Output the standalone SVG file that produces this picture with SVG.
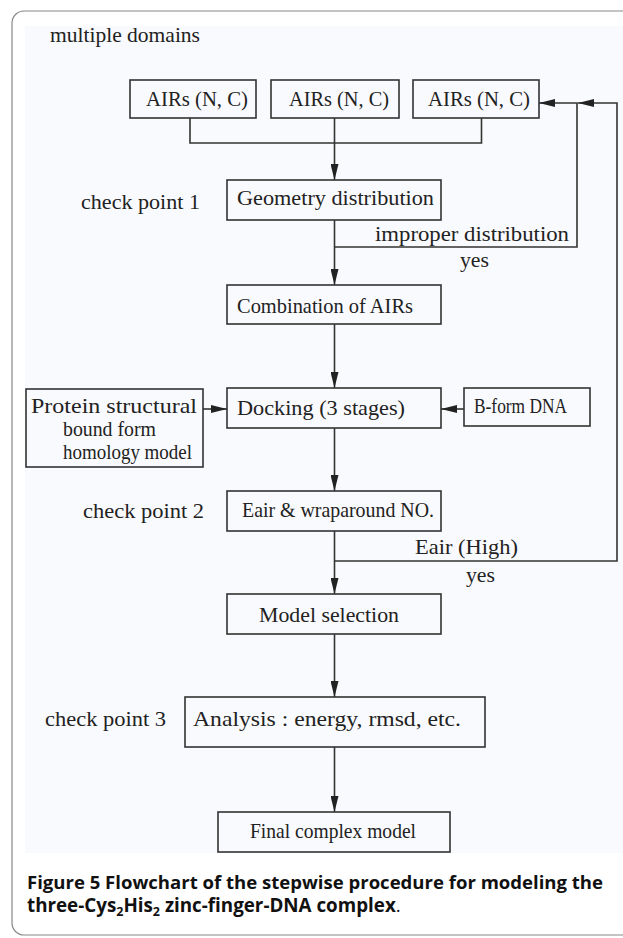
<svg xmlns="http://www.w3.org/2000/svg" width="623" height="938" viewBox="0 0 623 938">
<defs>
<style>
.box{fill:none;stroke:#333;stroke-width:1.6}
.ln{fill:none;stroke:#333;stroke-width:1.6}
.t{font-family:"Liberation Serif","DejaVu Serif",serif;font-size:21.5px;fill:#222}
.cap{font-family:"Open Sans","Noto Sans",sans-serif;font-size:18px;fill:#111;font-weight:700}
.sub{font-size:12.5px}
</style>
<marker id="ah" viewBox="0 0 16 8" refX="16" refY="4" markerWidth="16" markerHeight="8" markerUnits="userSpaceOnUse" orient="auto">
<path d="M0,0 L16,4 L0,8 z" fill="#222"/>
</marker>
</defs>
<rect x="0" y="0" width="623" height="938" fill="#fff"/>
<rect x="12" y="11" width="640" height="924" rx="12" ry="12" fill="#fff" stroke="#888" stroke-width="1.2"/>
<rect x="25" y="26" width="598" height="827" fill="#f9fafd"/>
<text class="t" x="50" y="42" textLength="150" lengthAdjust="spacingAndGlyphs">multiple domains</text>
<text class="t" x="81" y="209" textLength="119" lengthAdjust="spacingAndGlyphs">check point 1</text>
<text class="t" x="83" y="518" textLength="121" lengthAdjust="spacingAndGlyphs">check point 2</text>
<text class="t" x="45" y="726" textLength="121" lengthAdjust="spacingAndGlyphs">check point 3</text>

<g id="connectors">
<polyline class="ln" points="190,118 190,143 481.5,143 481.5,118"/>
<line class="ln" x1="334.5" y1="118" x2="334.5" y2="180" marker-end="url(#ah)"/>
<line class="ln" x1="334.5" y1="220" x2="334.5" y2="285" marker-end="url(#ah)"/>
<polyline class="ln" points="334.5,247 577,247 577,103 539,103" marker-end="url(#ah)"/>
<line class="ln" x1="334.5" y1="324" x2="334.5" y2="388" marker-end="url(#ah)"/>
<line class="ln" x1="203" y1="409" x2="227" y2="409" marker-end="url(#ah)"/>
<line class="ln" x1="464" y1="409" x2="441" y2="409" marker-end="url(#ah)"/>
<line class="ln" x1="334.5" y1="428" x2="334.5" y2="491" marker-end="url(#ah)"/>
<line class="ln" x1="334.5" y1="531" x2="334.5" y2="594" marker-end="url(#ah)"/>
<polyline class="ln" points="334.5,561 617,561 617,103 578,103" marker-end="url(#ah)"/>
<line class="ln" x1="334.5" y1="634" x2="334.5" y2="697" marker-end="url(#ah)"/>
<line class="ln" x1="334.5" y1="747" x2="334.5" y2="812" marker-end="url(#ah)"/>
<text class="t" x="375" y="241" textLength="194" lengthAdjust="spacingAndGlyphs">improper distribution</text>
<text class="t" x="460" y="267" textLength="29" lengthAdjust="spacingAndGlyphs">yes</text>
<text class="t" x="415" y="554" textLength="103" lengthAdjust="spacingAndGlyphs">Eair (High)</text>
<text class="t" x="466" y="582" textLength="29" lengthAdjust="spacingAndGlyphs">yes</text>
</g>

<g id="air1"><rect class="box" x="130" y="80" width="126" height="38"/><text class="t" x="146" y="106" textLength="102" lengthAdjust="spacingAndGlyphs">AIRs (N, C)</text></g>
<g id="air2"><rect class="box" x="271" y="80" width="128" height="38"/><text class="t" x="289" y="106" textLength="100" lengthAdjust="spacingAndGlyphs">AIRs (N, C)</text></g>
<g id="air3"><rect class="box" x="413" y="80" width="126" height="38"/><text class="t" x="428" y="106" textLength="102" lengthAdjust="spacingAndGlyphs">AIRs (N, C)</text></g>
<g id="geometry"><rect class="box" x="227" y="180" width="214" height="40"/><text class="t" x="237" y="205" textLength="197" lengthAdjust="spacingAndGlyphs">Geometry distribution</text></g>
<g id="combination"><rect class="box" x="227" y="285" width="214" height="39"/><text class="t" x="237" y="313" textLength="176" lengthAdjust="spacingAndGlyphs">Combination of AIRs</text></g>
<g id="protein"><rect class="box" x="26" y="389" width="177" height="78"/>
<text class="t" x="31" y="413" textLength="166" lengthAdjust="spacingAndGlyphs">Protein structural</text>
<text class="t" x="63" y="436" textLength="93" lengthAdjust="spacingAndGlyphs">bound form</text>
<text class="t" x="63" y="459" textLength="129" lengthAdjust="spacingAndGlyphs">homology model</text></g>
<g id="docking"><rect class="box" x="227" y="388" width="214" height="40"/><text class="t" x="237" y="415" textLength="168" lengthAdjust="spacingAndGlyphs">Docking (3 stages)</text></g>
<g id="bform"><rect class="box" x="464" y="388" width="126" height="38"/><text class="t" x="474" y="413" textLength="93" lengthAdjust="spacingAndGlyphs">B-form DNA</text></g>
<g id="eair"><rect class="box" x="227" y="491" width="214" height="40"/><text class="t" x="242" y="517" textLength="192" lengthAdjust="spacingAndGlyphs">Eair &amp; wraparound NO.</text></g>
<g id="model"><rect class="box" x="227" y="594" width="214" height="40"/><text class="t" x="259" y="622" textLength="140" lengthAdjust="spacingAndGlyphs">Model selection</text></g>
<g id="analysis"><rect class="box" x="185" y="697" width="300" height="50"/><text class="t" x="193" y="726" textLength="268" lengthAdjust="spacingAndGlyphs">Analysis : energy, rmsd, etc.</text></g>
<g id="final"><rect class="box" x="218" y="812" width="232" height="40"/><text class="t" x="250" y="838" textLength="166" lengthAdjust="spacingAndGlyphs">Final complex model</text></g>

<g id="caption">
<text class="cap" x="27" y="889" textLength="576" lengthAdjust="spacingAndGlyphs">Figure 5 Flowchart of the stepwise procedure for modeling the</text>
<text class="cap" x="27" y="912" style="font-size:18.8px">three-Cys<tspan class="sub" dy="4">2</tspan><tspan dy="-4">His</tspan><tspan class="sub" dy="4">2</tspan><tspan dy="-4"> zinc-finger-DNA complex</tspan><tspan style="font-weight:400">.</tspan></text>
</g>
</svg>
